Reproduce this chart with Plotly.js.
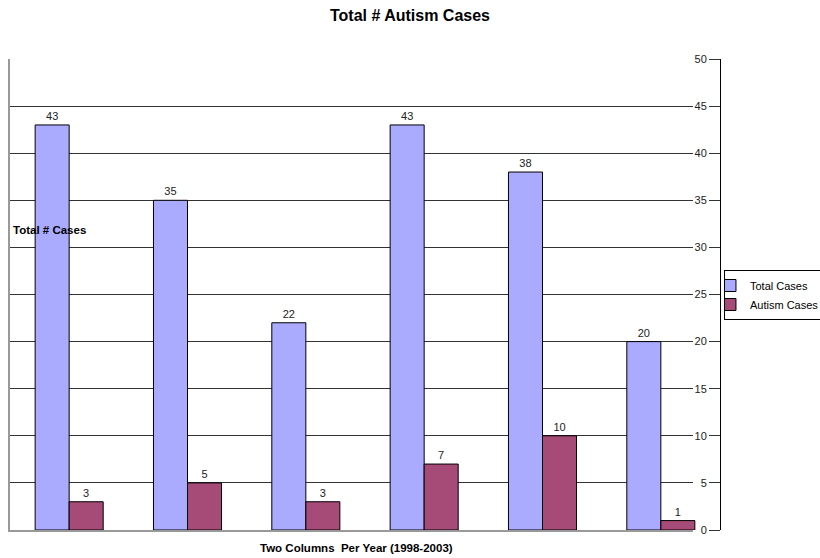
<!DOCTYPE html>
<html>
<head>
<meta charset="utf-8">
<script src="https://cdn.plot.ly/plotly-3.0.1.min.js"></script>
<style>html,body{margin:0;padding:0;background:#fff;}#chart{width:820px;height:558px;}</style>
</head>
<body>
<div id="chart"></div>
<script>
const years = ['1998', '1999', '2000', '2001', '2002', '2003'];
const totalCases = [43, 35, 22, 43, 38, 20];
const autismCases = [3, 5, 3, 7, 10, 1];
const seriesNames = ['Total Cases', 'Autism Cases'];
const yTicks = [0, 5, 10, 15, 20, 25, 30, 35, 40, 45, 50];

const FONT = 'Liberation Sans, Arial, sans-serif';

const traces = [
  {type: 'scatter', x: [], y: [], xaxis: 'x', yaxis: 'y', showlegend: false, hoverinfo: 'skip'},
  {
    type: 'bar', name: seriesNames[0], x: years, y: totalCases, xaxis: 'x2', yaxis: 'y2',
    marker: {color: '#AAAAFF', line: {color: '#000', width: 1}},
    texttemplate: '%{y}', textposition: 'outside', cliponaxis: false,
    textfont: {family: FONT, size: 11, color: '#222'}
  },
  {
    type: 'bar', name: seriesNames[1], x: years, y: autismCases, xaxis: 'x2', yaxis: 'y2',
    marker: {color: '#A64A78', line: {color: '#000', width: 1}},
    texttemplate: '%{y}', textposition: 'outside', cliponaxis: false,
    textfont: {family: FONT, size: 11, color: '#222'}
  }
];

const layout = {
  width: 820, height: 558,
  margin: {l: 10, r: 100, t: 59, b: 28, autoexpand: false},
  paper_bgcolor: '#fff', plot_bgcolor: 'rgba(0,0,0,0)',
  font: {family: FONT, size: 11, color: '#000'},
  title: {
    text: 'Total # Autism Cases', xref: 'container', x: 0.5, xanchor: 'center',
    yref: 'container', y: 0.972, yanchor: 'middle',
    font: {family: FONT, size: 16, weight: 'bold', color: '#000'}
  },
  barmode: 'group', bargap: 0.425, bargroupgap: 0,
  showlegend: true,
  legend: {
    x: 1.0056, xanchor: 'left', y: 0.552, yanchor: 'top',
    bgcolor: '#fff', bordercolor: '#000', borderwidth: 1, indentation: -15,
    font: {family: FONT, size: 11, color: '#000'}, tracegroupgap: 0
  },
  xaxis: {
    domain: [0, 0.962], anchor: 'y', type: 'linear', range: [0, 1],
    showline: true, linecolor: '#999', linewidth: 2,
    showgrid: false, zeroline: false, showticklabels: false, ticks: ''
  },
  yaxis: {
    domain: [0, 1], anchor: 'x', range: [0, 50], tickvals: yTicks,
    showgrid: true, gridcolor: '#333', gridwidth: 1,
    showline: true, linecolor: '#999', linewidth: 2,
    zeroline: false, showticklabels: false, ticks: ''
  },
  xaxis2: {
    domain: [0, 1], anchor: 'y2', type: 'category', range: [-0.5, 5.5],
    showline: false, showgrid: false, zeroline: false, showticklabels: false, ticks: ''
  },
  yaxis2: {
    domain: [0, 1], anchor: 'free', position: 1, side: 'left', range: [0, 50], tickvals: yTicks,
    showgrid: false, zeroline: false, automargin: false,
    showline: true, linecolor: '#000', linewidth: 1,
    ticks: 'outside', ticklen: 11, tickcolor: '#333', tickwidth: 1,
    ticklabelstandoff: 0,
    tickfont: {family: FONT, size: 11, color: '#222'}
  },
  annotations: [
    {
      text: 'Total # Cases', xref: 'paper', yref: 'paper', x: 0, xshift: 1, xanchor: 'left',
      y: 0.637, yanchor: 'middle', showarrow: false,
      font: {family: FONT, size: 11.5, weight: 'bold', color: '#000'}
    },
    {
      text: 'Two Columns  Per Year (1998-2003)', xref: 'paper', yref: 'paper',
      x: 0.4887, xanchor: 'center', y: 0, yshift: -18, yanchor: 'middle', showarrow: false,
      font: {family: FONT, size: 11.5, weight: 'bold', color: '#000'}
    }
  ]
};

Plotly.newPlot('chart', traces, layout, {displayModeBar: false, staticPlot: true});
</script>
</body>
</html>
